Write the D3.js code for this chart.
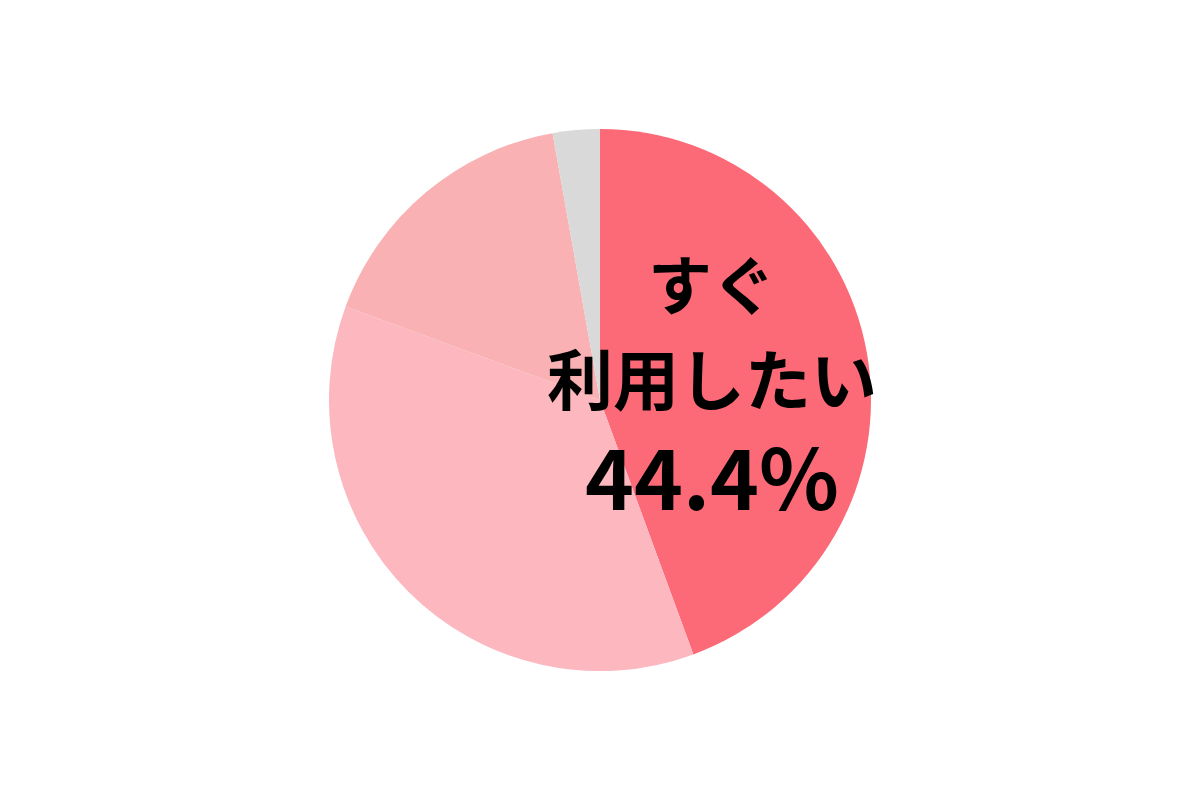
<!DOCTYPE html>
<html><head><meta charset="utf-8">
<script src="https://cdn.jsdelivr.net/npm/d3@7"></script>
<style>html,body{margin:0;padding:0;background:#fff;}svg{display:block;}</style>
</head><body>
<svg id="c" width="1200" height="800"></svg>
<script>
const categories = ["すぐ利用したい", "やや利用したい", "あまり利用したくない", "利用したくない"];
const values = [44.4, 36.2, 16.6, 2.8];
const colors = ["#FC6A78", "#FCB7BF", "#F9B1B3", "#D9D9D9"];
const labelLines = ["すぐ", "利用したい", "44.4%"];

const svg = d3.select("#c");
const cx = 600, cy = 400, r = 271;
const g = svg.append("g").attr("transform", `translate(${cx},${cy})`);
const pie = d3.pie().sort(null).value(d => d)(values);
const arc = d3.arc().innerRadius(0).outerRadius(r);
g.selectAll("path").data(pie).join("path")
  .attr("d", arc).attr("fill", (d, i) => colors[i]);

const font = "'Noto Sans CJK JP', 'Noto Sans', sans-serif";
const lx = 712;
const t = svg.append("g").attr("font-family", font).attr("font-weight", 700).attr("fill", "#000").attr("text-anchor", "middle");
t.append("text").attr("x", lx).attr("y", 281).attr("dominant-baseline", "central").attr("font-size", 64).text(labelLines[0]);
t.append("text").attr("x", lx).attr("y", 376).attr("dominant-baseline", "central").attr("font-size", 66).text(labelLines[1]);
t.append("text").attr("x", lx).attr("y", 510).attr("font-size", 83).text(labelLines[2]);
</script>
</body></html>
